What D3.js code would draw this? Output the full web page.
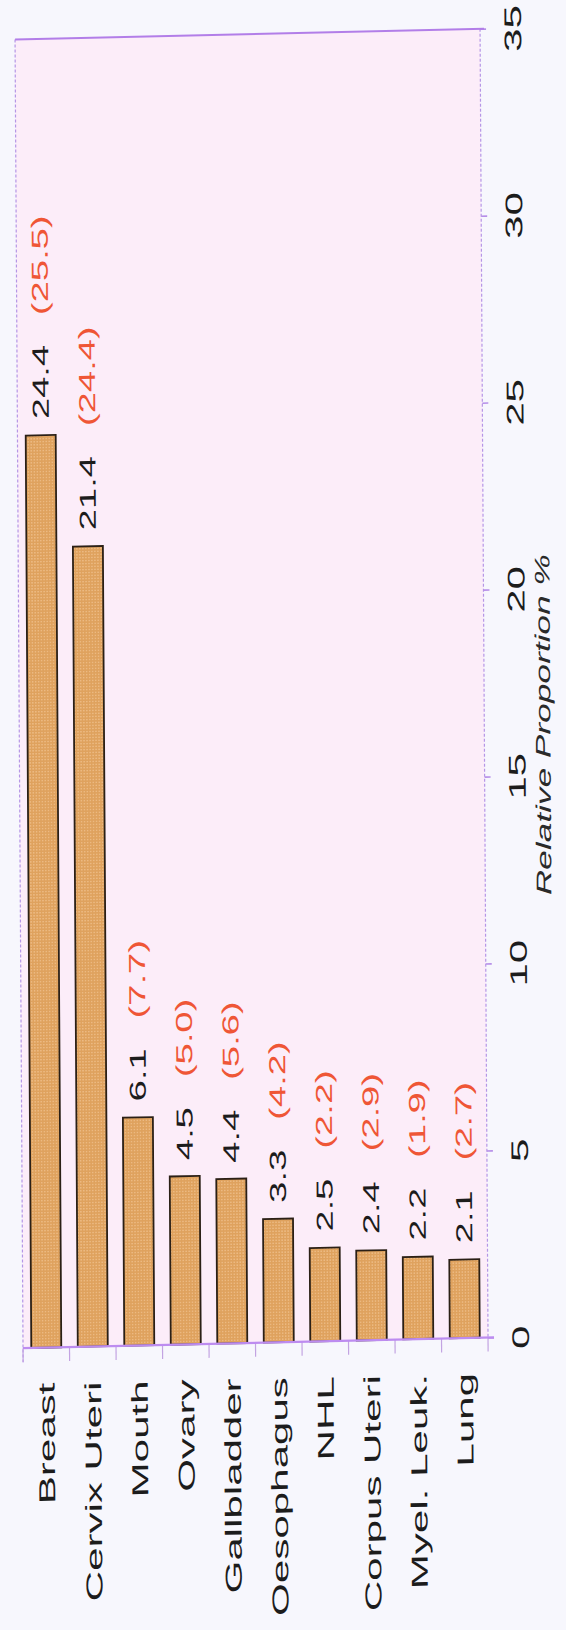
<!DOCTYPE html>
<html>
<head>
<meta charset="utf-8">
<script src="https://cdn.jsdelivr.net/npm/d3@7"></script>
<style>
  html, body { margin: 0; padding: 0; background: #f7f7fd; }
  svg { display: block; }
  text { font-family: "Liberation Sans", Arial, Helvetica, sans-serif; }
</style>
</head>
<body>
<div id="chart"></div>
<script>
// Relative proportion (%) of the ten leading cancer sites; bracketed figures are the comparison series
const categories = ["Breast", "Cervix Uteri", "Mouth", "Ovary", "Gallbladder",
                    "Oesophagus", "NHL", "Corpus Uteri", "Myel. Leuk.", "Lung"];
const values = [24.4, 21.4, 6.1, 4.5, 4.4, 3.3, 2.5, 2.4, 2.2, 2.1];
const compareValues = [25.5, 24.4, 7.7, 5.0, 5.6, 4.2, 2.2, 2.9, 1.9, 2.7];
const tickValues = [0, 5, 10, 15, 20, 25, 30, 35];
const axisTitle = "Relative Proportion %";

const W = 566, H = 1630;
const plot = { left: 14.8, right: 479.8, top: 39.8, bottom: 1348.5 };

// the printed page is slightly sheared: horizontals rise to the right, verticals lean
const shearX = 0.0061, shearY = -0.023;

// text in the printed figure is stretched along its reading direction
const stretchCat = 1.83, stretchVal = 1.66, stretchTick = 1.75, stretchTitle = 1.68;

const svg = d3.select("#chart").append("svg")
  .attr("width", W).attr("height", H);

const defs = svg.append("defs");
// halftone dots of the printed bar fill
const pat = defs.append("pattern")
  .attr("id", "halftone").attr("patternUnits", "userSpaceOnUse")
  .attr("width", 3).attr("height", 3);
pat.append("rect").attr("width", 3).attr("height", 3).attr("fill", "#dfa25e");
pat.append("circle").attr("cx", 1.5).attr("cy", 1.5).attr("r", 0.8).attr("fill", "#efbf8a");

svg.append("rect").attr("width", W).attr("height", H).attr("fill", "#f7f7fd");

const g = svg.append("g")
  .attr("transform", `matrix(1, ${shearY}, ${shearX}, 1, 0, 0)`);

const y = d3.scaleLinear().domain([0, 35]).range([plot.bottom, plot.top]);
const x = d3.scaleBand().domain(categories)
  .range([plot.left, plot.right])
  .paddingInner(0.355).paddingOuter(0.1775);

// plot background
g.append("rect")
  .attr("x", plot.left).attr("y", plot.top)
  .attr("width", plot.right - plot.left).attr("height", plot.bottom - plot.top)
  .attr("fill", "#fcedf9");

// dashed side frame line
g.append("line")
  .attr("x1", plot.left).attr("x2", plot.left)
  .attr("y1", plot.top).attr("y2", plot.bottom + 14)
  .attr("stroke", "#b596e6").attr("stroke-width", 1.2)
  .attr("stroke-dasharray", "3,2");

// value axis on the right
const axis = g.append("g")
  .attr("transform", `translate(${plot.right},0)`)
  .call(d3.axisRight(y).tickValues(tickValues).tickSize(6).tickFormat(d3.format("d")));

axis.select(".domain")
  .attr("d", `M0,${plot.top}V${plot.bottom}`)
  .attr("stroke", "#b596e6").attr("stroke-width", 1.2)
  .attr("stroke-dasharray", "3,2");
axis.selectAll(".tick line").attr("stroke", "#b68ee8").attr("stroke-width", 1.6);
axis.selectAll(".tick text")
  .attr("x", null).attr("dy", null)
  .attr("fill", "#1c1c1c")
  .attr("font-size", 24)
  .attr("text-anchor", "middle")
  .attr("transform", `translate(41,0) rotate(-90) scale(${stretchTick},1)`);

// top frame line
g.append("line")
  .attr("x1", plot.left).attr("x2", plot.right + 4)
  .attr("y1", plot.top).attr("y2", plot.top)
  .attr("stroke", "#b27ee8").attr("stroke-width", 2);

// category separators below the baseline
const bounds = categories.map(c => x(c) - x.step() * x.paddingInner() / 2)
  .concat([plot.right]);
g.selectAll(".sep").data(bounds).join("line")
  .attr("class", "sep")
  .attr("x1", d => d).attr("x2", d => d)
  .attr("y1", plot.bottom).attr("y2", plot.bottom + 14)
  .attr("stroke", "#c3a4e2").attr("stroke-width", 1.2);

// bars
g.selectAll(".bar").data(categories).join("rect")
  .attr("class", "bar")
  .attr("x", d => x(d))
  .attr("width", x.bandwidth())
  .attr("y", (d, i) => y(values[i]))
  .attr("height", (d, i) => y(0) - y(values[i]))
  .attr("fill", "url(#halftone)")
  .attr("stroke", "#2b2016").attr("stroke-width", 1.8);

// baseline
g.append("line")
  .attr("x1", plot.left).attr("x2", plot.right + 6)
  .attr("y1", plot.bottom).attr("y2", plot.bottom)
  .attr("stroke", "#bd8cf0").attr("stroke-width", 2.2);

// category labels
g.selectAll(".cat").data(categories).join("text")
  .attr("class", "cat")
  .attr("transform", d => `translate(${x(d) + x.bandwidth() / 2},${plot.bottom + 35}) rotate(-90) scale(${stretchCat},1)`)
  .attr("text-anchor", "end")
  .attr("dy", "0.35em")
  .attr("font-size", 23)
  .attr("fill", "#1c1c1c")
  .text(d => d);

// value labels with bracketed comparison figures
const vl = g.selectAll(".val").data(categories).join("text")
  .attr("class", "val")
  .attr("transform", (d, i) => `translate(${x(d) + x.bandwidth() / 2},${y(values[i]) - 16}) rotate(-90) scale(${stretchVal},1)`)
  .attr("text-anchor", "start")
  .attr("dy", "0.35em")
  .attr("font-size", 23);
vl.append("tspan").attr("fill", "#1c1c1c")
  .text((d, i) => values[i].toFixed(1));
vl.append("tspan").attr("fill", "#ef5636").attr("dx", 18)
  .text((d, i) => `(${compareValues[i].toFixed(1)})`);

// axis title
g.append("text")
  .attr("transform", `translate(${plot.right + 66},${y(16.35)}) rotate(-90) scale(${stretchTitle},1)`)
  .attr("text-anchor", "middle")
  .attr("font-size", 21)
  .attr("font-style", "italic")
  .attr("fill", "#2a2a2a")
  .text(axisTitle);
</script>
</body>
</html>
